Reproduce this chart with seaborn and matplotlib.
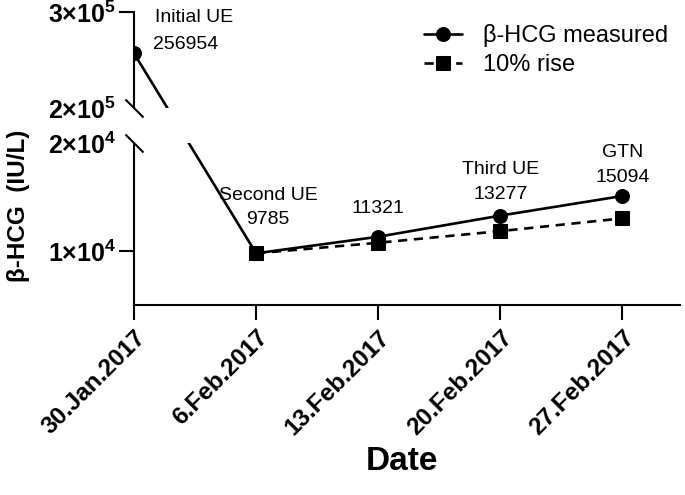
import numpy as np
import pandas as pd
import matplotlib
matplotlib.use("Agg")
import matplotlib.pyplot as plt
import seaborn as sns
from matplotlib.patches import Rectangle
from matplotlib.transforms import blended_transform_factory

sns.set_style("ticks")
plt.rcParams["font.family"] = ["Liberation Sans", "DejaVu Sans"]
plt.rcParams["mathtext.default"] = "regular"
for k in ("text.color", "axes.labelcolor", "xtick.color", "ytick.color",
          "axes.edgecolor"):
    plt.rcParams[k] = "black"

# data
dates = ["2017-01-30", "2017-02-06", "2017-02-13", "2017-02-20", "2017-02-27"]
date_labels = ["30.Jan.2017", "6.Feb.2017", "13.Feb.2017", "20.Feb.2017", "27.Feb.2017"]
measured = [256954, 9785, 11321, 13277, 15094]
rise_10 = [None, 9785, 10764, 11840, 13024]
event_labels = ["Initial UE", "Second UE", "", "Third UE", "GTN"]
ytick_vals = [1e4, 2e4, 2e5, 3e5]
ytick_labels = ["1×10$^{4}$", "2×10$^{4}$", "2×10$^{5}$", "3×10$^{5}$"]

df = pd.DataFrame({"Date": pd.to_datetime(dates), "measured": measured,
                   "rise": rise_10})


# broken y axis: 5e3..2e4 low segment, 2e5..3e5 top segment, squeezed gap
def fwd(v):
    v = np.asarray(v, float)
    return np.where(v <= 2e4, (v - 5000) / 15000 * 162,
                    np.where(v >= 2e5, 197 + (v - 2e5) / 1e5 * 96,
                             162 + (v - 2e4) / 1.8e5 * 35))


def inv(y):
    y = np.asarray(y, float)
    return np.where(y <= 162, 5000 + y / 162 * 15000,
                    np.where(y >= 197, 2e5 + (y - 197) / 96 * 1e5,
                             2e4 + (y - 162) / 35 * 1.8e5))


fig = plt.figure(figsize=(6.85, 4.95), dpi=100)
ax = fig.add_axes([134 / 685, 190 / 495, 546 / 685, 293 / 495])
ax.set_yscale("function", functions=(fwd, inv))

sns.lineplot(data=df, x="Date", y="measured", ax=ax, color="black", lw=1.9,
             marker="o", markersize=10, mec="black", label="β-HCG measured")
sns.lineplot(data=df.dropna(), x="Date", y="rise", ax=ax, color="black", lw=1.9,
             linestyle=(0, (3.5, 2.5)), marker="s", markersize=9.5, mec="black",
             label="10% rise")

ax.set_ylim(5000, 3e5)
ax.set_xlim(df["Date"].iloc[0], df["Date"].iloc[0] + pd.Timedelta(days=31.3))

ax.set_yticks(ytick_vals)
ax.set_yticklabels(ytick_labels, fontsize=18, fontweight="bold")
ax.set_xticks(df["Date"])
ax.set_xticklabels(date_labels, fontsize=17.5, fontweight="bold", rotation=45,
                   ha="right", rotation_mode="anchor")
ax.tick_params(axis="x", length=11, width=1.5, pad=4)
ax.tick_params(axis="y", length=11, width=1.5, pad=2)
for i in (1, 2):
    ax.yaxis.get_major_ticks()[i].tick1line.set_visible(False)

sns.despine(ax=ax)
for s in ("left", "bottom"):
    ax.spines[s].set_linewidth(1.5)

# hide the gap between the two segments and mark the break
tr = blended_transform_factory(ax.transAxes, ax.transData)
ax.add_patch(Rectangle((-0.02, 2e4), 1.02, 2e5 - 2e4, transform=tr,
                       facecolor="white", edgecolor="none", zorder=5, clip_on=False))
ax.plot([df["Date"].iloc[0]] * 2, [2e4, 2e5], linestyle="none",
        marker=[(-1, 1), (1, -1)], markersize=13, mew=1.5, color="black",
        clip_on=False, zorder=6)

# point annotations
offsets = [(19, 9, 36), (12, 34, 58), (0, 28, 52), (0, 21, 46), (0, 18, 43)]
for i, (d, v, lab) in enumerate(zip(df["Date"], measured, event_labels)):
    dx, dy_num, dy_lab = offsets[i]
    ha = "left" if i == 0 else "center"
    ax.annotate(str(v), xy=(d, v), xytext=(dx, dy_num), textcoords="offset pixels",
                ha=ha, va="center", fontsize=14)
    if lab:
        ax.annotate(lab, xy=(d, v), xytext=(dx + (2 if i == 0 else 0), dy_lab),
                    textcoords="offset pixels", ha=ha, va="center", fontsize=14)

ax.set_xlabel("Date", fontsize=24, fontweight="bold")
ax.xaxis.set_label_coords(0.491, -0.48)
ax.set_ylabel("β-HCG  (IU/L)", fontsize=17.5, fontweight="bold")
ax.yaxis.set_label_coords(-0.19, 0.34)

ax.legend(loc="upper right", bbox_to_anchor=(1.0, 1.0), frameon=False,
          fontsize=17, borderpad=0, handlelength=1.6, handletextpad=0.9,
          labelspacing=0.3)

fig.savefig("out.png", dpi=100)
